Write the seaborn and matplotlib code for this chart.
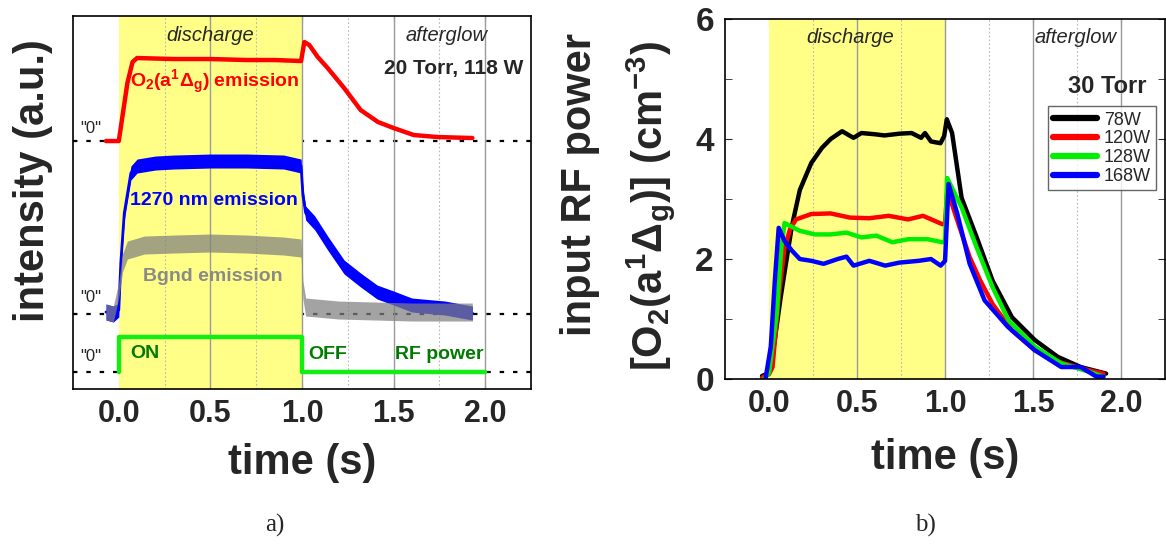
import numpy as np
import pandas as pd
import matplotlib
matplotlib.use("Agg")
import matplotlib.pyplot as plt
import seaborn as sns
from matplotlib import font_manager

# ---- data ----
# panel a) : 20 Torr, 118 W (a.u., each trace relative to its own "0")
red_t = [-0.07, 0.0, 0.047, 0.075, 0.10, 0.3, 0.5, 0.7, 0.85, 0.995, 1.013, 1.04, 1.086, 1.14, 1.23, 1.32, 1.415, 1.5, 1.61, 1.74, 1.93]
red_v = [0.0, 0.0, 0.58, 0.79, 0.83, 0.82, 0.82, 0.81, 0.81, 0.80, 0.99, 0.96, 0.84, 0.73, 0.53, 0.31, 0.19, 0.13, 0.06, 0.04, 0.03]

blue_t = [-0.07, -0.03, 0.0, 0.011, 0.03, 0.066, 0.10, 0.2, 0.3, 0.5, 0.7, 0.9, 0.995, 1.005, 1.02, 1.07, 1.14, 1.23, 1.32, 1.41, 1.5, 1.6, 1.78, 1.93]
blue_v = [0.02, 0.0, 0.04, 0.51, 1.01, 1.41, 1.48, 1.51, 1.52, 1.53, 1.53, 1.52, 1.48, 1.19, 1.01, 0.91, 0.71, 0.47, 0.34, 0.22, 0.16, 0.09, 0.06, 0.01]
blue_noise = [0.08, 0.08, 0.07, 0.07, 0.07, 0.07, 0.07, 0.07, 0.07, 0.07, 0.07, 0.07, 0.07, 0.07, 0.07, 0.07, 0.07, 0.07, 0.07, 0.07, 0.07, 0.07, 0.07, 0.07]

bg_t = [-0.07, -0.03, 0.0, 0.02, 0.047, 0.14, 0.3, 0.5, 0.7, 0.9, 0.995, 1.005, 1.02, 1.2, 1.4, 1.6, 1.8, 1.93]
bg_v = [0.02, 0.0, 0.24, 0.51, 0.64, 0.69, 0.70, 0.71, 0.70, 0.68, 0.66, 0.24, 0.07, 0.04, 0.03, 0.02, 0.02, 0.02]
bg_noise = [0.08, 0.08, 0.08, 0.09, 0.09, 0.09, 0.09, 0.09, 0.09, 0.09, 0.09, 0.09, 0.09, 0.09, 0.09, 0.09, 0.09, 0.09]

rf_t = [0.0, 0.0, 1.0, 1.0, 2.0]
rf_v = [0.0, 0.35, 0.35, 0.0, 0.0]

# "0" baselines of the stacked traces
red_zero, blue_zero, rf_zero = 2.48, 0.75, 0.17

# panel b) : 30 Torr, [O2(a1Dg)] density
t78 = [-0.04, 0.0, 0.03, 0.066, 0.10, 0.13, 0.175, 0.24, 0.30, 0.35, 0.415, 0.48, 0.525, 0.6, 0.656, 0.744, 0.81, 0.864, 0.886, 0.92, 0.974, 0.995, 1.01, 1.04, 1.094, 1.18, 1.27, 1.38, 1.51, 1.64, 1.77, 1.915]
y78 = [0.05, 0.1, 0.6, 1.36, 2.0, 2.55, 3.15, 3.6, 3.85, 4.0, 4.13, 4.02, 4.1, 4.08, 4.06, 4.09, 4.1, 4.02, 4.1, 3.96, 3.93, 4.05, 4.33, 4.1, 3.02, 2.36, 1.64, 1.03, 0.65, 0.37, 0.2, 0.09]
t120 = [-0.04, 0.0, 0.02, 0.055, 0.088, 0.12, 0.153, 0.24, 0.35, 0.46, 0.57, 0.68, 0.79, 0.875, 0.985, 1.0, 1.013, 1.07, 1.14, 1.2, 1.27, 1.38, 1.51, 1.64, 1.77, 1.9]
y120 = [0.02, 0.08, 0.2, 1.36, 2.19, 2.5, 2.66, 2.75, 2.76, 2.69, 2.68, 2.72, 2.66, 2.72, 2.58, 2.6, 3.15, 2.64, 2.03, 1.64, 1.25, 0.81, 0.48, 0.29, 0.18, 0.09]
t128 = [-0.03, 0.0, 0.044, 0.07, 0.088, 0.175, 0.26, 0.35, 0.44, 0.525, 0.61, 0.7, 0.79, 0.9, 0.985, 1.0, 1.012, 1.094, 1.18, 1.27, 1.36, 1.51, 1.66, 1.82, 1.9]
y128 = [0.0, 0.1, 1.09, 2.19, 2.6, 2.47, 2.41, 2.41, 2.44, 2.36, 2.39, 2.28, 2.33, 2.33, 2.28, 2.3, 3.35, 2.86, 2.19, 1.53, 0.98, 0.54, 0.26, 0.12, 0.04]
t168 = [-0.02, 0.01, 0.033, 0.055, 0.088, 0.13, 0.175, 0.24, 0.31, 0.39, 0.44, 0.48, 0.57, 0.66, 0.74, 0.85, 0.92, 0.975, 1.0, 1.02, 1.07, 1.14, 1.225, 1.357, 1.51, 1.66, 1.77, 1.86, 1.9]
y168 = [0.0, 0.54, 1.64, 2.52, 2.3, 2.14, 2.0, 1.97, 1.92, 2.0, 2.04, 1.89, 1.97, 1.89, 1.94, 1.97, 2.0, 1.89, 1.97, 3.25, 2.75, 1.92, 1.31, 0.87, 0.48, 0.2, 0.2, 0.04, 0.04]
powers = ["78W", "120W", "128W", "168W"]
power_colors = ["black", "red", "#00ee00", "blue"]

xticks = [0.0, 0.5, 1.0, 1.5, 2.0]

# ---- fonts ----
sns.set_style("ticks")
names = {f.name for f in font_manager.fontManager.ttflist}
narrow = "Liberation Sans Narrow" if "Liberation Sans Narrow" in names else "Liberation Sans"
tick_size = 25 if narrow == "Liberation Sans Narrow" else 22
xlab_size = 34 if narrow == "Liberation Sans Narrow" else 30
plt.rcParams["font.family"] = ["Liberation Sans", "DejaVu Sans"]
plt.rcParams["mathtext.fontset"] = "custom"
plt.rcParams["mathtext.rm"] = "Liberation Sans:bold"
plt.rcParams["mathtext.it"] = "Liberation Sans:bold"
plt.rcParams["mathtext.bf"] = "Liberation Sans:bold"
plt.rcParams["mathtext.default"] = "bf"

YELLOW = "#ffff88"

fig = plt.figure(figsize=(11.66, 5.47), dpi=100)
ax1 = fig.add_axes([0.0626, 0.2888, 0.3928, 0.6819])
ax2 = fig.add_axes([0.6218, 0.3071, 0.3774, 0.6581])


def frame(ax):
    ax.set_xlim(-0.25, 2.25)
    ax.axvspan(0, 1, color=YELLOW, zorder=1, lw=0)
    for x in [0.5, 1.0, 1.5, 2.0]:
        ax.axvline(x, color="#9a9a9a", lw=1.0, zorder=1.5)
    for x in [0.25, 0.75, 1.25, 1.75]:
        ax.axvline(x, color="#b8b8b8", lw=0.8, ls=(0, (1.5, 2)), zorder=1.5)
    ax.set_xticks(xticks)
    ax.set_xticklabels([f"{v:.1f}" for v in xticks], fontfamily=narrow,
                       fontweight="bold", fontsize=tick_size)
    ax.tick_params(axis="x", direction="in", length=5, pad=7, top=True, color="#808080")
    for s in ax.spines.values():
        s.set_linewidth(1.2)
        s.set_color("black")
        s.set_zorder(5)


# ---------- panel a ----------
frame(ax1)
ax1.set_ylim(0, 3.73)
ax1.set_yticks([])
for z in [red_zero, blue_zero, rf_zero]:
    ax1.axhline(z, color="black", lw=1.6, ls=(0, (2, 4)), zorder=0.5)

blue_df = pd.DataFrame({"t": blue_t, "v": np.array(blue_v) + blue_zero})
bg_df = pd.DataFrame({"t": bg_t, "v": np.array(bg_v) + blue_zero})
ax1.fill_between(blue_t, blue_df["v"] - blue_noise, blue_df["v"] + blue_noise,
                 color="blue", lw=0, zorder=3)
sns.lineplot(data=blue_df, x="t", y="v", ax=ax1, color="blue", lw=2,
             estimator=None, sort=False, zorder=3)
ax1.fill_between(bg_t, bg_df["v"] - bg_noise, bg_df["v"] + bg_noise,
                 color="#808080", alpha=0.72, lw=0, zorder=4)
sns.lineplot(x=red_t, y=np.array(red_v) + red_zero, ax=ax1, color="red", lw=3.2,
             estimator=None, sort=False, zorder=4)
sns.lineplot(x=rf_t, y=np.array(rf_v) + rf_zero, ax=ax1, color="#11ee11", lw=3.2,
             estimator=None, sort=False, zorder=4)

ax1.text(0.5, 3.54, "discharge", style="italic", fontsize=14.5, ha="center", va="center", zorder=6)
ax1.text(1.79, 3.54, "afterglow", style="italic", fontsize=14.5, ha="center", va="center", zorder=6)
ax1.text(1.83, 3.21, "20 Torr, 118 W", fontweight="bold", fontsize=15, ha="center", va="center", zorder=6)
ax1.text(0.525, 3.07, r"O$_2$(a$^1\Delta_g$) emission", color="red", fontweight="bold",
         fontsize=14, ha="center", va="center", zorder=6)
ax1.text(0.52, 1.89, "1270 nm emission", color="blue", fontweight="bold", fontsize=14,
         ha="center", va="center", zorder=6)
ax1.text(0.515, 1.13, "Bgnd emission", color="#8a8a8a", fontweight="bold", fontsize=14,
         ha="center", va="center", zorder=6)
for y in [2.61, 0.92, 0.33]:
    ax1.text(-0.153, y, '"0"', fontsize=12, ha="center", va="center", zorder=6)
ax1.text(0.14, 0.36, "ON", color="#007a00", fontweight="bold", fontsize=14, ha="center", va="center", zorder=6)
ax1.text(1.14, 0.35, "OFF", color="#007a00", fontweight="bold", fontsize=14, ha="center", va="center", zorder=6)
ax1.text(1.75, 0.35, "RF power", color="#007a00", fontweight="bold", fontsize=14, ha="center", va="center", zorder=6)

ax1.set_xlabel("time (s)", fontfamily=narrow, fontweight="bold", fontsize=xlab_size, va="center")
ax1.xaxis.set_label_coords(0.5, -0.198)
ax1.set_ylabel("")
ax1.text(-0.087, 0.56, "intensity (a.u.)", transform=ax1.transAxes, rotation=90,
         fontweight="bold", fontsize=30, ha="center", va="center")

# ---------- panel b ----------
frame(ax2)
ax2.set_ylim(0, 6)
rows = []
for name, tt, yy in zip(powers, [t78, t120, t128, t168], [y78, y120, y128, y168]):
    rows += [{"t": a, "n": b, "P": name} for a, b in zip(tt, yy)]
dens = pd.DataFrame(rows)
sns.lineplot(data=dens, x="t", y="n", hue="P", hue_order=powers, palette=power_colors,
             ax=ax2, lw=3.2, estimator=None, sort=False, zorder=4)
ax2.set_yticks([0, 2, 4, 6])
ax2.set_yticks([1, 3, 5], minor=True)
ax2.set_yticklabels(["0", "2", "4", "6"], fontfamily=narrow, fontweight="bold", fontsize=tick_size + 2)
ax2.tick_params(axis="y", which="both", direction="in", length=5, pad=8, right=True)
ax2.set_xlabel("time (s)", fontfamily=narrow, fontweight="bold", fontsize=xlab_size, va="center")
ax2.xaxis.set_label_coords(0.5, -0.22)
ax2.set_ylabel("")
ax2.text(-0.33, 0.54, "input RF power", transform=ax2.transAxes, rotation=90,
         fontweight="bold", fontsize=30, ha="center", va="center")
ax2.text(-0.17, 0.48, r"[O$_2$(a$^1\Delta_g$)] (cm$^{-3}$)", transform=ax2.transAxes,
         rotation=90, fontweight="bold", fontsize=30, ha="center", va="center")
ax2.text(0.46, 5.69, "discharge", style="italic", fontsize=14.5, ha="center", va="center", zorder=6)
ax2.text(1.74, 5.69, "afterglow", style="italic", fontsize=14.5, ha="center", va="center", zorder=6)
ax2.text(1.92, 4.87, "30 Torr", fontweight="bold", fontsize=17, ha="center", va="center", zorder=6)
leg = ax2.legend(loc="upper right", bbox_to_anchor=(0.98, 0.758), fontsize=13,
                 frameon=True, fancybox=False, handlelength=2.4, handletextpad=0.4,
                 borderpad=0.3, labelspacing=0.1, borderaxespad=0, title=None)
leg.get_frame().set_edgecolor("#404040")
leg.get_frame().set_linewidth(1.0)
leg.set_zorder(7)
for h in leg.legend_handles:
    h.set_linewidth(4.5)

fig.text(275 / 1166, 1 - 525 / 547, "a)", fontfamily="Liberation Serif", fontsize=18,
         ha="center", va="center")
fig.text(925 / 1166, 1 - 525 / 547, "b)", fontfamily="Liberation Serif", fontsize=18,
         ha="center", va="center")

fig.savefig("out.png", dpi=100)
